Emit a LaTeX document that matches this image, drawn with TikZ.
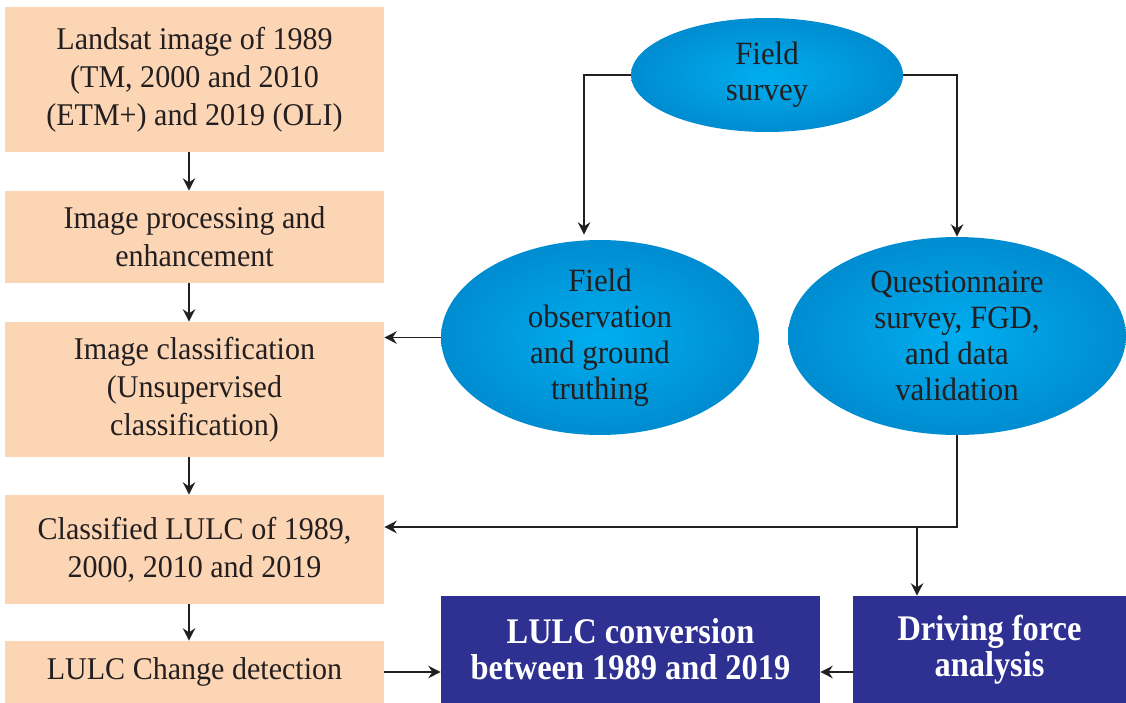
\documentclass[tikz,border=0pt]{standalone}
\usepackage{fontspec}
\setmainfont{Liberation Serif}
\newfontfamily\plainfont[FakeStretch=0.95]{Liberation Serif}
\newfontfamily\heavyfont[FakeStretch=0.9]{Liberation Serif}
\usetikzlibrary{shapes.geometric,arrows.meta}
\definecolor{peach}{RGB}{252,213,181}
\definecolor{skyin}{RGB}{0,174,239}
\definecolor{skyout}{RGB}{0,140,208}
\definecolor{navy}{RGB}{46,49,146}
\definecolor{ink}{RGB}{35,31,32}
\tikzset{
  stepbox/.style={fill=peach, minimum width=7.58cm, inner sep=0pt, align=center, text=ink,
    font=\plainfont\fontsize{18}{21.5}\selectfont},
  blob/.style={ellipse, inner sep=0pt, shade, inner color=skyin, outer color=skyout, align=center, text=ink,
    font=\plainfont\fontsize{18.5}{20.5}\selectfont},
  result/.style={fill=navy, inner sep=0pt, minimum height=2.14cm, align=center, text=white,
    font=\heavyfont\bfseries\fontsize{20.5}{20.5}\selectfont},
  arr/.style={-{Stealth[length=7pt,width=7pt]}, line width=1.1pt, draw=ink}
}
\begin{document}
\begin{tikzpicture}[x=0.02cm,y=-0.02cm]
        \useasboundingbox (0,0) rectangle (1126,703);
        % left column
        \node[stepbox, minimum height=2.9cm] (b1) at (194.5,79.5) {Landsat image of 1989\\(TM, 2000 and 2010\\(ETM+) and 2019 (OLI)};
        \node[stepbox, minimum height=1.84cm] (b2) at (194.5,237) {Image processing and\\enhancement};
        \node[stepbox, minimum height=2.7cm] (b3) at (194.5,389.5) {Image classification\\(Unsupervised\\classification)};
        \node[stepbox, minimum height=2.18cm] (b4) at (194.5,549.5) {Classified LULC of 1989,\\2000, 2010 and 2019};
        \node[stepbox, minimum height=1.24cm] (b5) at (194.5,672) {LULC Change detection};
        % ellipses
        \node[blob, minimum width=5.44cm, minimum height=2.28cm] (fs) at (767,75) {Field\\survey};
        \node[blob, minimum width=6.36cm, minimum height=3.9cm] (fo) at (600,337.5) {Field\\observation\\and ground\\truthing};
        \node[blob, minimum width=6.76cm, minimum height=3.96cm] (qs) at (957,336) {Questionnaire\\survey, FGD,\\and data\\validation};
        % result boxes
        \node[result, minimum width=7.58cm] (lc) at (630.5,649.5) {LULC conversion\\between 1989 and 2019};
        \node[result, minimum width=5.46cm] (df) at (989.5,649.5) {Driving force\\analysis};
        \coordinate (jn) at (917,527);
        % arrows
        \draw[arr] ([xshift=-0.11cm]b1.south) -- ([xshift=-0.11cm]b2.north);
        \draw[arr] ([xshift=-0.11cm]b2.south) -- ([xshift=-0.11cm]b3.north);
        \draw[arr] ([xshift=-0.11cm]b3.south) -- ([xshift=-0.11cm]b4.north);
        \draw[arr] ([xshift=-0.11cm]b4.south) -- ([xshift=-0.11cm]b5.north);
        \draw[arr] (fs.west) -| ([xshift=-0.32cm,yshift=0.1cm]fo.north);
        \draw[arr] (fs.east) -| (qs.north);
        \draw[arr] (fo.west) -- (fo.west -| b3.east);
        \draw[arr] (qs.south) |- (jn -| b4.east);
        \draw[arr] (jn) -- (jn |- df.north);
        \draw[arr] (b5.east) -- (b5.east -| lc.west);
        \draw[arr] (b5 -| df.west) -- (b5 -| lc.east);
\end{tikzpicture}
\end{document}
